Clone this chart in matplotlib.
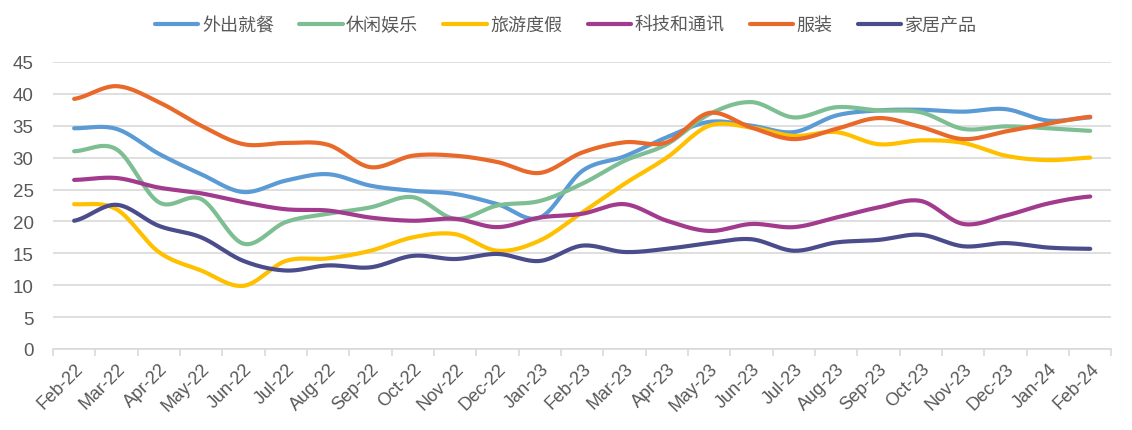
import numpy as np
import matplotlib
matplotlib.use("Agg")
import matplotlib.pyplot as plt

plt.rcParams["font.family"] = ["Liberation Sans", "Noto Sans CJK SC", "DejaVu Sans"]

months = ["Feb-22", "Mar-22", "Apr-22", "May-22", "Jun-22", "Jul-22", "Aug-22", "Sep-22",
          "Oct-22", "Nov-22", "Dec-22", "Jan-23", "Feb-23", "Mar-23", "Apr-23", "May-23",
          "Jun-23", "Jul-23", "Aug-23", "Sep-23", "Oct-23", "Nov-23", "Dec-23", "Jan-24", "Feb-24"]

dining = [34.6, 34.5, 30.6, 27.4, 24.6, 26.4, 27.4, 25.6, 24.8, 24.3, 22.7, 20.6, 27.9,
          30.2, 33.2, 35.6, 35.0, 34.0, 36.6, 37.4, 37.5, 37.2, 37.6, 35.8, 36.3]
leisure = [31.0, 31.3, 23.0, 23.5, 16.5, 19.9, 21.2, 22.2, 23.8, 20.4, 22.5, 23.2, 25.9,
           29.5, 32.1, 36.8, 38.7, 36.3, 37.9, 37.4, 37.1, 34.5, 34.9, 34.6, 34.2]
travel = [22.7, 21.9, 15.2, 12.3, 9.9, 13.8, 14.2, 15.4, 17.5, 18.0, 15.4, 17.0, 21.4,
          25.9, 30.0, 35.0, 34.7, 33.4, 34.0, 32.1, 32.7, 32.3, 30.3, 29.6, 30.0]
tech = [26.5, 26.8, 25.3, 24.4, 23.0, 21.9, 21.7, 20.6, 20.1, 20.4, 19.1, 20.6, 21.2,
        22.7, 20.1, 18.5, 19.6, 19.1, 20.6, 22.2, 23.2, 19.6, 20.9, 22.8, 23.9]
apparel = [39.2, 41.2, 38.7, 35.0, 32.1, 32.3, 32.0, 28.5, 30.3, 30.3, 29.3, 27.6, 30.8,
           32.4, 32.4, 37.0, 34.7, 32.9, 34.5, 36.2, 34.8, 32.9, 34.1, 35.3, 36.4]
home = [20.1, 22.6, 19.3, 17.5, 13.8, 12.3, 13.1, 12.8, 14.6, 14.1, 14.9, 13.8, 16.2,
        15.2, 15.7, 16.6, 17.2, 15.4, 16.7, 17.1, 17.9, 16.1, 16.6, 15.9, 15.7]

names = ["外出就餐", "休闲娱乐", "旅游度假", "科技和通讯", "服装", "家居产品"]
series = [dining, leisure, travel, tech, apparel, home]
colors = ["#5B9BD5", "#7DBE93", "#FFC000", "#A23B8E", "#E8692A", "#4B4C8C"]


def smooth(y, n=20):
    # catmull-rom style smoothing, like excel's smoothed line
    y = np.asarray(y, float)
    x = np.arange(len(y), dtype=float)
    p = np.concatenate([[y[0]], y, [y[-1]]])
    xs, ys = [], []
    t = np.linspace(0, 1, n, endpoint=False)
    for i in range(len(y) - 1):
        p0, p1, p2, p3 = p[i], p[i + 1], p[i + 2], p[i + 3]
        yy = 0.5 * ((2 * p1) + (-p0 + p2) * t + (2 * p0 - 5 * p1 + 4 * p2 - p3) * t ** 2
                    + (-p0 + 3 * p1 - 3 * p2 + p3) * t ** 3)
        xs.append(x[i] + t)
        ys.append(yy)
    xs.append([x[-1]])
    ys.append([y[-1]])
    return np.concatenate(xs), np.concatenate(ys)


fig = plt.figure(figsize=(11.32, 4.31), dpi=100)
ax = fig.add_axes([0.0468, 0.188, 0.935, 0.666])

for name, vals, c in zip(names, series, colors):
    xs, ys = smooth(vals)
    ax.plot(xs, ys, color=c, lw=3, solid_capstyle="round", label=name)

ax.set_xlim(-0.5, len(months) - 0.5)
ax.set_ylim(0, 45)
ax.set_yticks(range(0, 50, 5))
ax.set_xticks(range(len(months)))
ax.set_xticklabels(months, rotation=45, ha="right", rotation_mode="anchor")
ax.set_xticks(np.arange(-0.5, len(months)), minor=True)
ax.tick_params(axis="x", which="major", length=0, pad=8, labelsize=13, colors="#595959")
ax.tick_params(axis="x", which="minor", length=5, width=1.2, color="#D9D9D9")
ax.tick_params(axis="y", length=0, pad=14, labelsize=13.5, colors="#595959")

ax.grid(axis="y", color="#D9D9D9", lw=1.2)
ax.set_axisbelow(True)
for s in ["top", "right", "left"]:
    ax.spines[s].set_visible(False)
ax.spines["bottom"].set_color("#D9D9D9")
ax.spines["bottom"].set_linewidth(1.2)

leg = fig.legend(loc="center", bbox_to_anchor=(0.5, 0.94), ncol=6, frameon=False,
                 prop={"family": ["Noto Sans CJK SC"], "size": 13},
                 handlelength=2.4, handletextpad=0.2, columnspacing=1.4)
for t in leg.get_texts():
    t.set_color("#595959")

fig.savefig("out.png", dpi=100)
